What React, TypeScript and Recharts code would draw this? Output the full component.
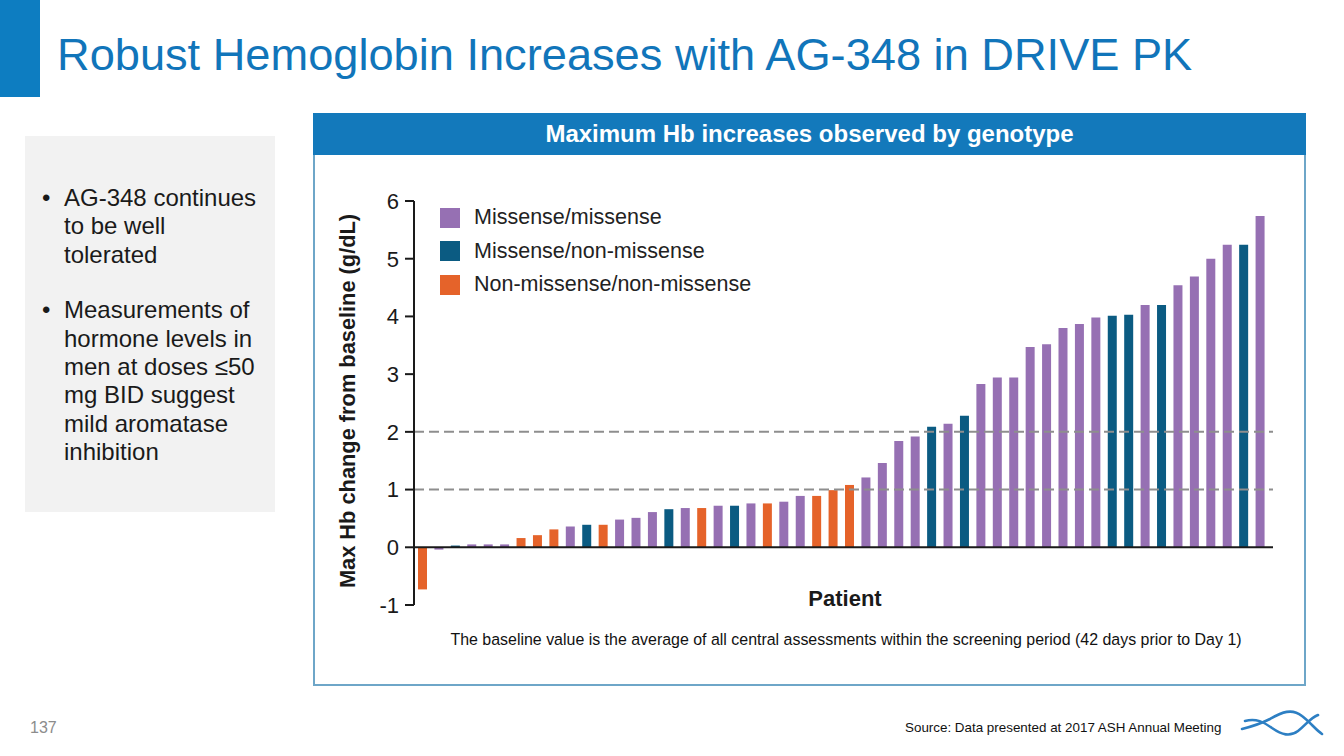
import React from "react";
import { BarChart, Bar, XAxis, YAxis, Cell, ReferenceLine, Label } from "recharts";

// ---- data ----
const hbChange = [
  -0.73, -0.04, 0.03, 0.05, 0.05, 0.05, 0.16, 0.21, 0.31, 0.36,
  0.39, 0.39, 0.48, 0.51, 0.61, 0.66, 0.68, 0.68, 0.72, 0.72,
  0.76, 0.76, 0.79, 0.89, 0.89, 0.99, 1.08, 1.21, 1.46, 1.84,
  1.92, 2.09, 2.14, 2.28, 2.83, 2.94, 2.94, 3.47, 3.52, 3.8,
  3.87, 3.98, 4.01, 4.03, 4.2, 4.2, 4.54, 4.69, 5.0, 5.24,
  5.24, 5.74,
];
// MM = Missense/missense, MN = Missense/non-missense, NN = Non-missense/non-missense
const genotype = [
  "NN", "MM", "MN", "MM", "MM", "MM", "NN", "NN", "NN", "MM",
  "MN", "NN", "MM", "MM", "MM", "MN", "MM", "NN", "MM", "MN",
  "MM", "NN", "MM", "MM", "NN", "NN", "NN", "MM", "MM", "MM",
  "MM", "MN", "MM", "MN", "MM", "MM", "MM", "MM", "MM", "MM",
  "MM", "MM", "MN", "MN", "MM", "MN", "MM", "MM", "MM", "MM",
  "MN", "MM",
];
const genotypeKeys = ["MM", "MN", "NN"];
const genotypeLabels = ["Missense/missense", "Missense/non-missense", "Non-missense/non-missense"];
const genotypeColors = ["#9670b3", "#0b5b82", "#e5632a"];
const yTicks = [-1, 0, 1, 2, 3, 4, 5, 6];
const dashedLevels = [1, 2];

const data = hbChange.map((v, i) => ({ patient: `P${i + 1}`, value: v, genotype: genotype[i] }));
const colorOf = (g: string) => genotypeColors[genotypeKeys.indexOf(g)];

const FONT = "'Liberation Sans', Arial, sans-serif";

function LegendBox() {
  return (
    <div style={{ position: "absolute", left: 440, top: 201, fontFamily: FONT }}>
      {genotypeKeys.map((k, i) => (
        <div key={k} style={{ display: "flex", alignItems: "center", height: 33.5 }}>
          <div style={{ width: 20, height: 20, background: genotypeColors[i], marginRight: 14 }} />
          <span style={{ fontSize: 21.5, color: "#222", whiteSpace: "nowrap" }}>{genotypeLabels[i]}</span>
        </div>
      ))}
    </div>
  );
}

function Logo() {
  return (
    <svg width={90} height={44} style={{ position: "absolute", left: 1236, top: 704 }} viewBox="0 0 90 44">
      <path d="M6 25 C 18 22, 26 19, 34 15 C 46 8, 56 4, 66 12 C 74 18, 80 26, 86 30" fill="none" stroke="#2d7fc3" strokeWidth={2.6} strokeLinecap="round" />
      <path d="M9 17 C 20 14, 28 18, 36 24 C 46 31, 54 33, 62 27 C 70 21, 74 14, 82 11" fill="none" stroke="#2d7fc3" strokeWidth={2.6} strokeLinecap="round" />
    </svg>
  );
}

export default function App() {
  return (
    <div style={{ position: "absolute", left: 0, top: 0, width: 1344, height: 756, background: "#fff", overflow: "hidden", fontFamily: FONT }}>
      {/* title bar */}
      <div style={{ position: "absolute", left: 0, top: 0, width: 40, height: 97, background: "#0d7dc1" }} />
      <div style={{ position: "absolute", left: 57, top: 32, fontSize: 45.2, color: "#1175ba", whiteSpace: "nowrap", lineHeight: "45px" }}>
        Robust Hemoglobin Increases with AG-348 in DRIVE PK
      </div>

      {/* left bullet box */}
      <div style={{ position: "absolute", left: 25, top: 136, width: 250, height: 376, background: "#f2f2f2" }}>
        <div style={{ position: "absolute", left: 39, top: 48, width: 196, fontSize: 24, lineHeight: "28.4px", color: "#1a1a1a" }}>
          <div style={{ position: "relative" }}>
            <span style={{ position: "absolute", left: -22 }}>•</span>
            AG-348 continues to be well tolerated
          </div>
          <div style={{ position: "relative", marginTop: 27 }}>
            <span style={{ position: "absolute", left: -22 }}>•</span>
            Measurements of hormone levels in men at doses ≤50 mg BID suggest mild aromatase inhibition
          </div>
        </div>
      </div>

      {/* chart panel */}
      <div style={{ position: "absolute", left: 313, top: 113, width: 993, height: 573, boxSizing: "border-box", border: "2px solid #6ea6c8", background: "#fff" }} />
      <div style={{ position: "absolute", left: 313, top: 113, width: 993, height: 42, background: "#1379bb", color: "#fff", fontWeight: 700, fontSize: 24, textAlign: "center", lineHeight: "42px", whiteSpace: "nowrap" }}>
        Maximum Hb increases observed by genotype
      </div>

      <div style={{ position: "absolute", left: 313, top: 155 }}>
        <BarChart width={993} height={530} data={data} margin={{ top: 46, right: 33, bottom: 80, left: 41 }} barCategoryGap={0}>
          <XAxis dataKey="patient" hide padding={{ left: 0, right: 5 }} />
          <YAxis
            width={60}
            domain={[-1, 6]}
            ticks={yTicks}
            interval={0}
            allowDataOverflow
            axisLine={{ stroke: "#1a1a1a", strokeWidth: 2 }}
            tickLine={{ stroke: "#1a1a1a", strokeWidth: 2 }}
            tickSize={9}
            tickMargin={6}
            tick={{ fill: "#1a1a1a", fontSize: 22, fontFamily: FONT }}
          >
            <Label
              content={() => (
                <text
                  x={34}
                  y={246}
                  transform="rotate(-90, 34, 246)"
                  textAnchor="middle"
                  dominantBaseline="central"
                  style={{ fontFamily: FONT, fontWeight: 700, fontSize: 21.8, fill: "#1a1a1a" }}
                >
                  Max Hb change from baseline (g/dL)
                </text>
              )}
            />
          </YAxis>
          {dashedLevels.map((lv) => (
            <ReferenceLine key={lv} y={lv} stroke="#8e8e8e" strokeWidth={2} strokeDasharray="10 5" />
          ))}
          <Bar dataKey="value" barSize={9} isAnimationActive={false}>
            {data.map((d, i) => (
              <Cell key={i} fill={colorOf(d.genotype)} />
            ))}
          </Bar>
          <ReferenceLine y={0} stroke="#1a1a1a" strokeWidth={2} />
        </BarChart>
      </div>

      <LegendBox />

      <div style={{ position: "absolute", left: 745, top: 586, width: 200, textAlign: "center", fontWeight: 700, fontSize: 22, color: "#1a1a1a" }}>
        Patient
      </div>
      <div style={{ position: "absolute", left: 346, top: 631, width: 1000, textAlign: "center", fontSize: 15.95, color: "#111", whiteSpace: "nowrap" }}>
        The baseline value is the average of all central assessments within the screening period (42 days prior to Day 1)
      </div>

      {/* footer */}
      <div style={{ position: "absolute", left: 30, top: 719, fontSize: 16, color: "#8c8c8c" }}>137</div>
      <div style={{ position: "absolute", left: 905, top: 720, fontSize: 13.4, color: "#111", whiteSpace: "nowrap" }}>
        Source: Data presented at 2017 ASH Annual Meeting
      </div>
      <Logo />
    </div>
  );
}
